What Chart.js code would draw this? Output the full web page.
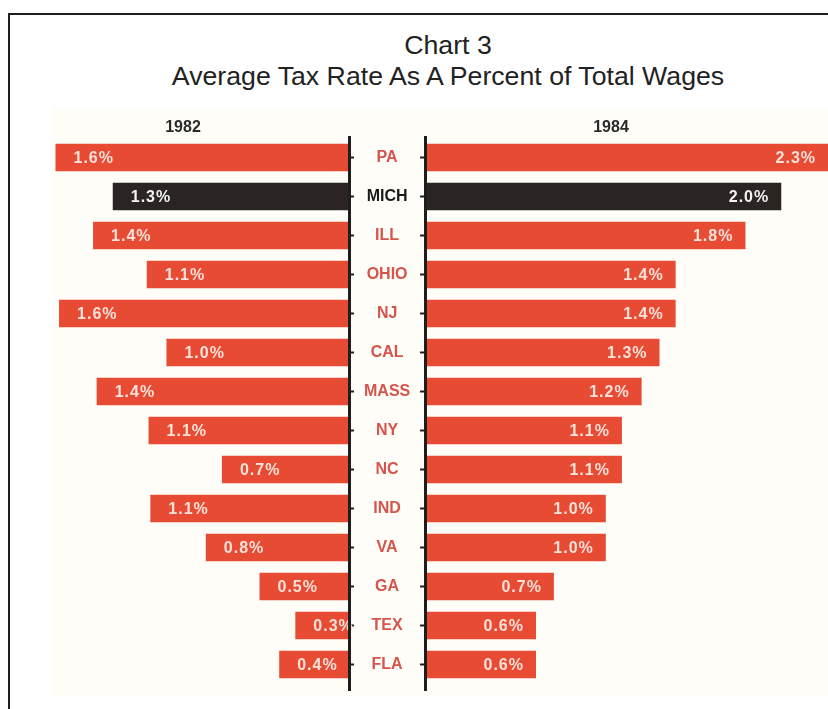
<!DOCTYPE html>
<html>
<head>
<meta charset="utf-8">
<script src="https://cdn.jsdelivr.net/npm/chart.js@4.4.1/dist/chart.umd.min.js"></script>
<style>
  html, body { margin: 0; padding: 0; background: #ffffff; width: 828px; height: 709px; overflow: hidden; }
  #frame { position: absolute; left: 8px; top: 13px; width: 900px; height: 800px;
           border-top: 2px solid #1e1e1e; border-left: 2px solid #1e1e1e; }
  #paper { position: absolute; left: 52px; top: 108px; width: 776px; height: 588px; background: #fefdf7; }
  #title { position: absolute; left: 0; top: 30px; width: 896px; text-align: center;
           font-family: "Liberation Sans", Arial, sans-serif; font-size: 26.7px; line-height: 31px; color: #222; }
  #wrapL { position: absolute; left: 0; top: 100px; width: 425px; height: 600px; }
  #wrapR { position: absolute; left: 349px; top: 100px; width: 479px; height: 600px; }
</style>
</head>
<body>
<div id="frame"></div>
<div id="paper"></div>
<div id="title">Chart 3<br>Average Tax Rate As A Percent of Total Wages</div>
<div id="wrapL"><canvas id="chartL"></canvas></div>
<div id="wrapR"><canvas id="chartR"></canvas></div>
<script>
// ---- data ----
const categories = ['PA', 'MICH', 'ILL', 'OHIO', 'NJ', 'CAL', 'MASS', 'NY', 'NC', 'IND', 'VA', 'GA', 'TEX', 'FLA'];
const rate1982 = [1.64, 1.32, 1.43, 1.13, 1.62, 1.02, 1.41, 1.12, 0.71, 1.11, 0.80, 0.50, 0.30, 0.39];
const rate1984 = [2.30, 1.99, 1.79, 1.40, 1.40, 1.31, 1.21, 1.10, 1.10, 1.01, 1.01, 0.72, 0.62, 0.62];
const yearLeft = '1982';
const yearRight = '1984';
const highlight = 'MICH';

// ---- styles ----
const FONT = '"Liberation Sans", Arial, sans-serif';
const RED = '#e84b34';
const DARK = '#2a2522';
const barColors = categories.map(c => c === highlight ? DARK : RED);

const valueLabels = {
  id: 'valueLabels',
  afterDatasetsDraw(chart, args, opts) {
    const ctx = chart.ctx;
    const meta = chart.getDatasetMeta(0);
    const ds = chart.data.datasets[0];
    ctx.save();
    ctx.font = 'bold 16px ' + FONT;
    ctx.letterSpacing = '1px';
    ctx.textBaseline = 'middle';
    meta.data.forEach((bar, i) => {
      const txt = ds.data[i].x.toFixed(1) + '%';
      ctx.fillStyle = categories[i] === highlight ? '#f3f3f3' : '#fbe2d9';
      if (opts.side === 'left') {
        ctx.textAlign = 'left';
        ctx.fillText(txt, bar.x + 18, bar.y + 1);
      } else {
        ctx.textAlign = 'right';
        ctx.fillText(txt, Math.min(bar.x, chart.width) - 12, bar.y + 1);
      }
    });
    ctx.restore();
  }
};

function makeConfig(values, side) {
  const isLeft = side === 'left';
  return {
    type: 'bar',
    data: {
      datasets: [{
        data: categories.map((c, i) => ({ x: values[i], y: i })),
        backgroundColor: barColors,
        borderWidth: 0,
        barPercentage: 0.7,
        categoryPercentage: 1,
        clip: false
      }]
    },
    options: {
      indexAxis: 'y',
      responsive: true,
      maintainAspectRatio: false,
      animation: false,
      devicePixelRatio: 1,
      layout: { padding: isLeft ? { left: 17, right: 0, top: 0, bottom: 10 } : { left: 0, right: 31, top: 0, bottom: 10 } },
      plugins: {
        legend: { display: false },
        tooltip: { enabled: false },
        title: {
          display: true,
          text: isLeft ? yearLeft : yearRight,
          fullSize: false,
          align: 'center',
          color: '#2a2a2a',
          font: { family: FONT, size: 16, weight: 'bold', lineHeight: 1 },
          padding: { top: 20, bottom: 1 }
        },
        valueLabels: { side: side }
      },
      scales: {
        x: {
          type: 'linear',
          display: false,
          reverse: isLeft,
          min: 0,
          max: isLeft ? 1.855 : 2.078
        },
        y: {
          type: 'linear',
          position: isLeft ? 'right' : 'left',
          reverse: true,
          offset: false,
          min: -0.526,
          max: 13.654,
          afterBuildTicks: (s) => { s.ticks = categories.map((c, i) => ({ value: i })); },
          afterFit: (s) => { s.width = 76; s.paddingTop = 0; s.paddingBottom = 0; },
          grid: {
            display: true,
            offset: false,
            drawOnChartArea: false,
            drawTicks: true,
            tickLength: 5,
            tickWidth: 2,
            tickColor: '#1e1e1e'
          },
          border: { display: true, color: '#1e1e1e', width: 3, z: 1 },
          ticks: {
            display: isLeft,
            crossAlign: 'center',
            padding: 10,
            font: { family: FONT, size: 16, weight: 'bold' },
            color: (ctx) => categories[ctx.tick.value] === highlight ? '#1a1a1a' : '#d5544c',
            callback: (v) => categories[v]
          }
        }
      }
    },
    plugins: [valueLabels]
  };
}

new Chart(document.getElementById('chartL'), makeConfig(rate1982, 'left'));
new Chart(document.getElementById('chartR'), makeConfig(rate1984, 'right'));
</script>
</body>
</html>
